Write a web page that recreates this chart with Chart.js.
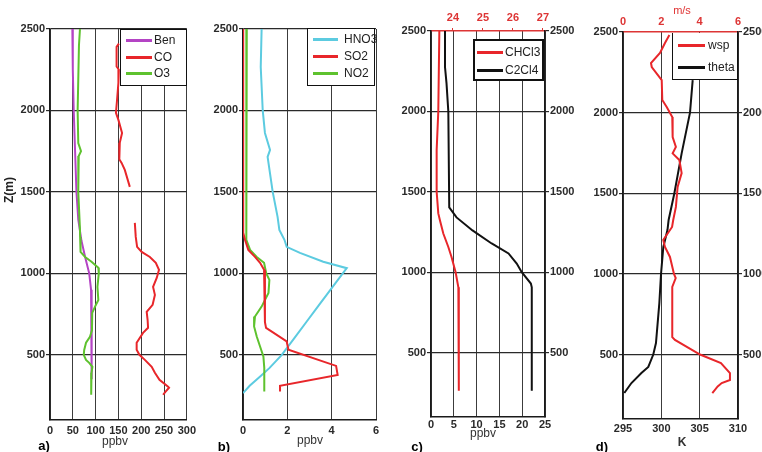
<!DOCTYPE html>
<html>
<head>
<meta charset="utf-8">
<script src="https://cdn.jsdelivr.net/npm/chart.js@4/dist/chart.umd.min.js"></script>
<style>
  html, body { margin: 0; padding: 0; background: #fff; }
  body { width: 762px; height: 452px; position: relative; overflow: hidden;
         font-family: "Liberation Sans", Arial, sans-serif; }
  canvas { position: absolute; top: 0; }
  .lbl { position: absolute; color: #222; white-space: nowrap; line-height: 1;
         transform: translate(-50%, -50%); }
  .legend { position: absolute; background: #fff; border: 1.5px solid #111; box-sizing: border-box; }
  .sw { position: absolute; height: 2.5px; }
  .tx { position: absolute; font-size: 12px; color: #222; line-height: 14px; height: 14px; }
</style>
</head>
<body>
<canvas id="pa" width="200" height="452" style="left:0px"></canvas>
<canvas id="pb" width="185" height="452" style="left:200px"></canvas>
<canvas id="pc" width="195" height="452" style="left:390px"></canvas>
<canvas id="pd" width="177" height="452" style="left:585px"></canvas>

<div class="lbl" style="left:9px;top:190px;font-weight:bold;font-size:12px;transform:translate(-50%,-50%) rotate(-90deg);">Z(m)</div>
<div class="lbl" style="left:44px;top:445px;font-weight:bold;font-size:13px;color:#000;">a)</div>
<div class="lbl" style="left:115px;top:441px;font-size:12px;color:#333;">ppbv</div>
<div class="lbl" style="left:224px;top:446px;font-weight:bold;font-size:13px;color:#000;">b)</div>
<div class="lbl" style="left:310px;top:440px;font-size:12px;color:#333;">ppbv</div>
<div class="lbl" style="left:417px;top:446px;font-weight:bold;font-size:13px;color:#000;">c)</div>
<div class="lbl" style="left:483px;top:433px;font-size:12px;color:#333;">ppbv</div>
<div class="lbl" style="left:602px;top:446px;font-weight:bold;font-size:13px;color:#000;">d)</div>
<div class="lbl" style="left:682px;top:442px;font-weight:bold;font-size:12px;color:#333;">K</div>
<div class="lbl" style="left:682px;top:10px;font-size:11px;color:#e03535;">m/s</div>

<div id="legends"></div>

<script>
// Altitude axis shared by all four profiles (m)
const zMin = 100;
const zMax = 2500;
const zTicks = [500, 1000, 1500, 2000, 2500];

// a) Benzene, CO, O3 (ppbv)
const benAlt = [2500, 2250, 2000, 1750, 1500, 1330, 1200, 1100, 1000, 900, 800, 700, 600, 500, 400, 350];
const ben    = [49, 50, 52, 55, 58, 62, 69, 77, 86, 90, 91, 91, 91, 91, 92, 92];

const o3Alt = [2500, 2400, 2000, 1800, 1750, 1720, 1500, 1270, 1224, 1132, 1101, 1071, 1034, 1000, 917, 837, 794, 757, 650, 611, 574, 530, 500, 469, 451, 426, 390, 359, 300, 255];
const o3    = [65.7, 63.5, 60.6, 62, 68, 63, 62, 65.7, 66, 67, 77, 91, 106, 107, 104, 106, 98.5, 92.6, 92, 87.6, 79, 75, 74, 79, 86, 93, 91, 91, 90, 90];

const coUpperAlt = [2410, 2390, 2270, 2250, 2170, 2064, 1985, 1942, 1862, 1801, 1700, 1678, 1635, 1531];
const coUpper    = [151, 146, 146, 151, 150, 147, 144.6, 150, 158, 153, 152, 157, 164, 175];
const coLowerAlt = [1310, 1224, 1163, 1132, 1101, 1065, 1022, 972, 917, 868, 807, 764, 715, 666, 635, 574, 531, 500, 469, 426, 390, 347, 304, 298, 273, 255];
const coLower    = [186, 188, 191, 201, 219, 232, 239, 234, 226, 230, 225, 212, 214, 215, 204, 190, 190, 196, 208, 223, 230, 240, 259, 261, 253, 248];

// b) HNO3, SO2, NO2 (ppbv)
const hno3Alt = [2500, 2267, 2000, 1862, 1758, 1715, 1500, 1347, 1267, 1206, 1163, 1126, 1071, 1032, 900, 800, 700, 600, 500, 420, 370, 310, 265];
const hno3    = [0.84, 0.80, 0.89, 0.99, 1.22, 1.11, 1.34, 1.56, 1.64, 1.87, 1.97, 2.57, 3.62, 4.68, 3.95, 3.40, 2.85, 2.30, 1.75, 1.20, 0.80, 0.30, 0.00];

const so2Alt = [2500, 1300, 1250, 1206, 1144, 1101, 1065, 1022, 900, 700, 665, 582, 531, 432, 377, 310, 275];
const so2    = [0.0, 0.0, 0.02, 0.09, 0.24, 0.54, 0.77, 0.95, 0.99, 0.99, 1.04, 1.97, 2.05, 4.20, 4.27, 1.67, 1.67];

const no2Alt = [2500, 2000, 1500, 1300, 1206, 1144, 1101, 1065, 1000, 960, 880, 796, 735, 674, 612, 551, 490, 420, 275];
const no2    = [0.17, 0.15, 0.17, 0.14, 0.14, 0.32, 0.62, 0.95, 1.05, 1.19, 1.15, 0.84, 0.54, 0.50, 0.62, 0.77, 0.92, 0.96, 0.96];

// c) CHCl3, C2Cl4 (ppbv)
const chcl3Alt = [2500, 2000, 1760, 1500, 1366, 1322, 1241, 1157, 1095, 1000, 906, 800, 263];
const chcl3    = [1.83, 1.6, 1.24, 1.24, 1.6, 1.97, 2.7, 3.8, 4.5, 5.4, 6.0, 6.1, 6.1];

const c2cl4Alt = [2500, 2276, 2176, 2000, 1403, 1341, 1260, 1179, 1117, 1054, 1000, 930, 906, 263];
const c2cl4    = [3.07, 3.07, 3.4, 3.8, 4.0, 5.6, 9.1, 13.3, 17.0, 18.8, 19.9, 21.9, 22.1, 22.1];
const cTopTicks = [24, 25, 26, 27];

// d) potential temperature (K) and wind speed (m/s)
const thetaAlt = [2202, 2000, 1747, 1500, 1334, 1272, 1167, 1000, 819, 571, 500, 423, 385, 323, 261];
const theta    = [304.09, 303.74, 302.65, 301.7, 300.95, 300.8, 300.26, 299.96, 299.74, 299.3, 298.95, 298.3, 297.4, 296.1, 295.17];

const wspAlt = [2481, 2432, 2370, 2308, 2283, 2202, 2078, 2035, 1973, 1849, 1787, 1747, 1706, 1625, 1539, 1415, 1334, 1291, 1210, 1167, 1105, 1000, 974, 919, 608, 590, 500, 447, 385, 342, 323, 302, 261];
const wsp    = [2.42, 2.19, 1.93, 1.46, 1.50, 2.02, 2.05, 2.28, 2.57, 2.59, 2.76, 2.59, 2.94, 3.06, 2.85, 2.76, 2.62, 2.56, 2.10, 2.19, 2.45, 2.66, 2.75, 2.57, 2.57, 2.71, 4.02, 5.11, 5.58, 5.58, 5.15, 4.94, 4.66];

const RED = '#e8262a', GREEN = '#5ec22e', PURPLE = '#b444c4', CYAN = '#5ccbe0', BLACK = '#111111';
const AXRED = '#dd3535';
const FONT = "'Liberation Sans', Arial, sans-serif";

function pts(alts, vals) { return alts.map((z, i) => ({ x: vals[i], y: z })); }

function line(label, alts, vals, color, xAxisID) {
  return { label, data: pts(alts, vals), borderColor: color, borderWidth: 2,
           pointRadius: 0, showLine: true, fill: false, tension: 0,
           xAxisID: xAxisID || 'x', yAxisID: 'y' };
}

const tickFont = { family: FONT, size: 11, weight: 'bold' };
const asText = v => String(v);

function zAxis(position, width, onArea, redTop) {
  return {
    type: 'linear', position, min: zMin, max: zMax,
    afterBuildTicks: s => { s.ticks = zTicks.map(v => ({ value: v })); },
    afterFit: s => { s.width = width; },
    grid: {
      display: true, drawOnChartArea: onArea, drawTicks: true, tickLength: 4,
      lineWidth: 1.2, tickColor: '#2a2a2a',
      color: c => (redTop && c.tick && c.tick.value === zMax) ? 'rgba(0,0,0,0)' : '#2a2a2a'
    },
    border: { display: true, color: '#1a1a1a', width: 1.5 },
    ticks: { padding: 1, color: '#2a2a2a', font: tickFont, callback: asText }
  };
}

function bottomAxis(min, max, step, height, pad) {
  return {
    type: 'linear', position: 'bottom', min, max,
    afterFit: s => { s.height = height; },
    grid: { color: '#3c3c3c', lineWidth: 1, drawTicks: false },
    border: { display: true, color: '#1a1a1a', width: 1.5 },
    ticks: { stepSize: step, padding: pad, color: '#2a2a2a', font: tickFont,
             autoSkip: false, maxRotation: 0, minRotation: 0, callback: asText }
  };
}

function topAxis(min, max, height, ticksList, tickLen) {
  return {
    type: 'linear', position: 'top', min, max,
    afterBuildTicks: s => { s.ticks = ticksList.map(v => ({ value: v })); },
    afterFit: s => { s.height = height; },
    grid: { drawOnChartArea: false, drawTicks: tickLen > 0, tickLength: tickLen, color: AXRED, tickColor: AXRED },
    border: { display: true, color: AXRED, width: 1.5 },
    ticks: { padding: 3, color: AXRED, font: { family: FONT, size: 11, weight: 'bold' },
             autoSkip: false, maxRotation: 0, minRotation: 0, callback: asText }
  };
}

function baseOptions(padding, scales) {
  return {
    responsive: false, animation: false, events: [],
    layout: { padding },
    plugins: { legend: { display: false }, tooltip: { enabled: false }, title: { display: false } },
    scales
  };
}

// a)
new Chart(document.getElementById('pa'), {
  type: 'scatter',
  data: { datasets: [
    line('O3', o3Alt, o3, GREEN),
    line('CO', coUpperAlt, coUpper, RED),
    line('CO', coLowerAlt, coLower, RED),
    line('Ben', benAlt, ben, PURPLE)
  ]},
  options: baseOptions({ left: 0, right: 13, top: 29, bottom: 0 }, {
    x: bottomAxis(0, 300, 50, 32, 4),
    y: zAxis('left', 50, true, false)
  })
});

// b)
new Chart(document.getElementById('pb'), {
  type: 'scatter',
  data: { datasets: [
    line('SO2', so2Alt, so2, RED),
    line('NO2', no2Alt, no2, GREEN),
    line('HNO3', hno3Alt, hno3, CYAN)
  ]},
  options: baseOptions({ left: 0, right: 9, top: 29, bottom: 0 }, {
    x: bottomAxis(0, 6, 2, 32, 4),
    y: zAxis('left', 43, true, false)
  })
});

// c)
new Chart(document.getElementById('pc'), {
  type: 'scatter',
  data: { datasets: [
    line('CHCl3', chcl3Alt, chcl3, RED),
    line('C2Cl4', c2cl4Alt, c2cl4, BLACK)
  ]},
  options: baseOptions({ left: 0, right: 0, top: 0, bottom: 0 }, {
    x: bottomAxis(0, 25, 5, 35, 1),
    x2: topAxis(23.27, 27.07, 31, cTopTicks, 3),
    y: zAxis('left', 41, true, true),
    y2: zAxis('right', 40, false, true)
  })
});

// d)
new Chart(document.getElementById('pd'), {
  type: 'scatter',
  data: { datasets: [
    line('wsp', wspAlt, wsp, RED, 'x2'),
    line('theta', thetaAlt, theta, BLACK, 'x')
  ]},
  options: baseOptions({ left: 0, right: 0, top: 0, bottom: 0 }, {
    x: bottomAxis(295, 310, 5, 33, 3),
    x2: Object.assign(topAxis(0, 6, 32, [0, 2, 4, 6], 0), {}),
    y: zAxis('left', 38, true, true),
    y2: zAxis('right', 24, false, true)
  })
});

// Legend boxes drawn over the plot areas
const legendSpecs = [
  { box: [120, 29, 67, 57, 1.5], sw: [126, 26], tx: 154, rows: [[40, 'Ben', PURPLE], [57, 'CO', RED], [73, 'O3', GREEN]] },
  { box: [307, 28, 68, 58, 1.5], sw: [313, 25], tx: 344, rows: [[39, 'HNO3', CYAN], [56, 'SO2', RED], [73, 'NO2', GREEN]] },
  { box: [473, 39, 71, 42, 2], sw: [477, 26], tx: 505, rows: [[52, 'CHCl3', RED], [70, 'C2Cl4', BLACK]] },
  { box: [672, 33, 66, 47, 1.5], sw: [678, 27], tx: 708, rows: [[45, 'wsp', RED], [67, 'theta', BLACK]], noTop: true }
];
const host = document.getElementById('legends');
legendSpecs.forEach(spec => {
  const [l, t, w, h, bw] = spec.box;
  const box = document.createElement('div');
  box.className = 'legend';
  box.style.cssText = `left:${l}px;top:${t}px;width:${w}px;height:${h}px;border-width:${bw}px;` +
    (spec.noTop ? 'border-top:none;' : '');
  host.appendChild(box);
  spec.rows.forEach(([y, text, color]) => {
    const sw = document.createElement('div');
    sw.className = 'sw';
    sw.style.cssText = `left:${spec.sw[0]}px;top:${y - 1}px;width:${spec.sw[1]}px;background:${color};`;
    host.appendChild(sw);
    const tx = document.createElement('div');
    tx.className = 'tx';
    tx.style.cssText = `left:${spec.tx}px;top:${y - 7}px;`;
    tx.textContent = text;
    host.appendChild(tx);
  });
});
</script>
</body>
</html>
